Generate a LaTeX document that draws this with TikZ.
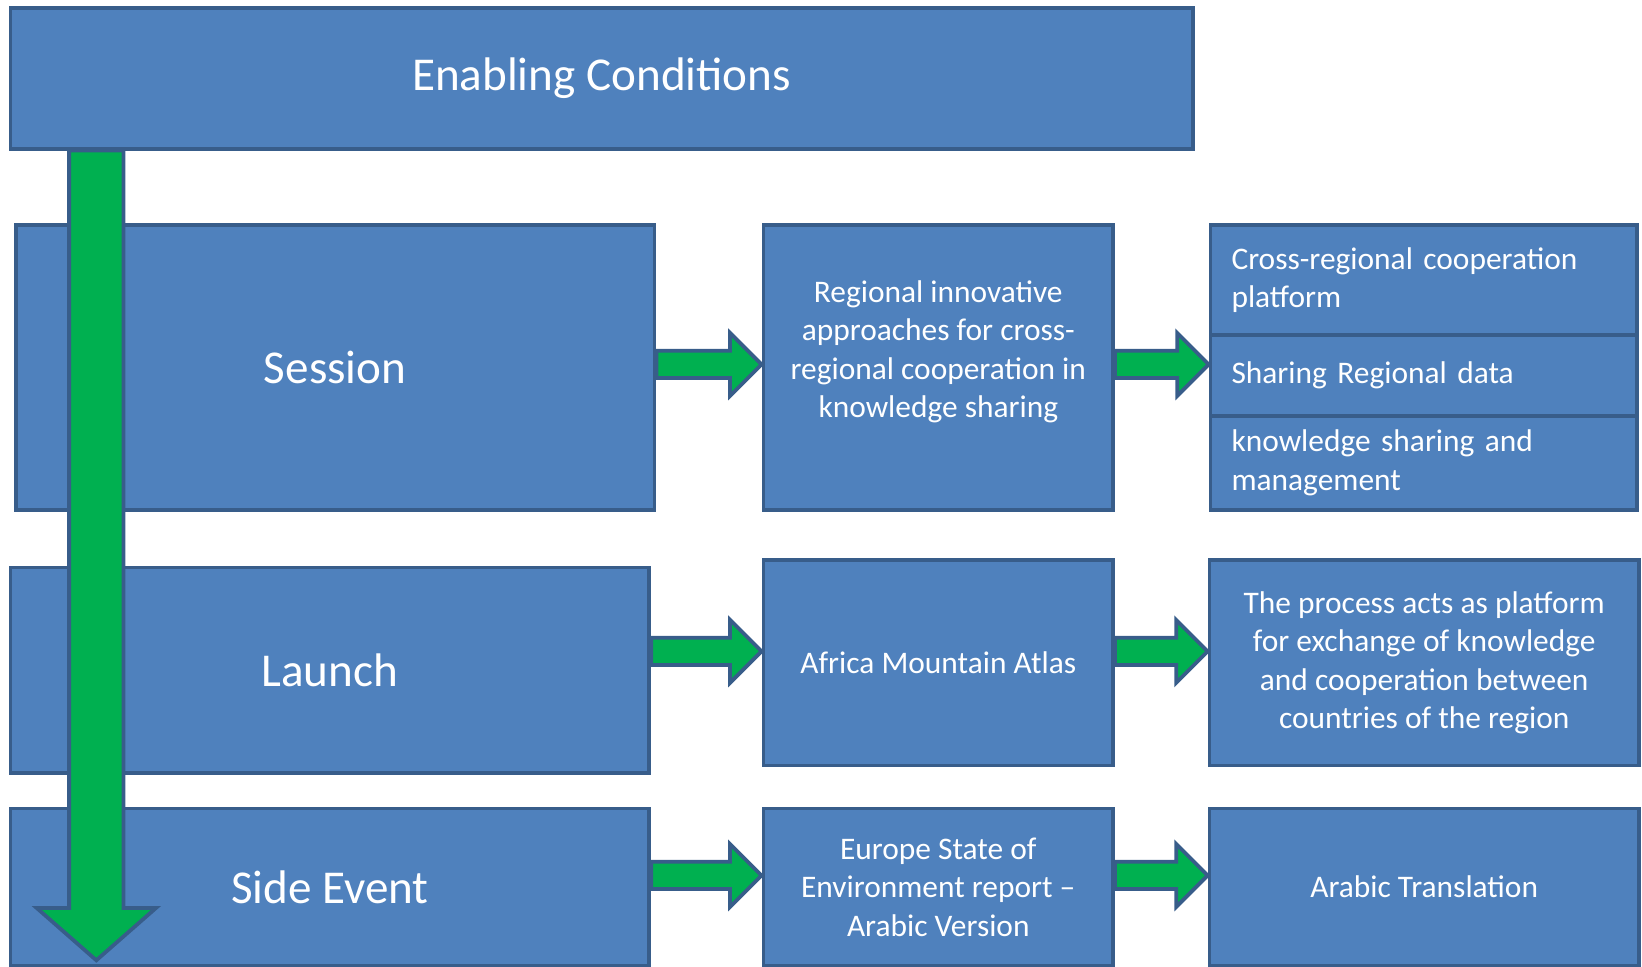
\documentclass[tikz,border=0pt]{standalone}
\usepackage{fontspec}
\setmainfont{Carlito}
\usetikzlibrary{calc}
\definecolor{boxblue}{HTML}{4F81BD}
\definecolor{boxline}{HTML}{385D8A}
\definecolor{arrgreen}{HTML}{00B050}
% green block arrow from the east side of #1 to the tip #2
\newcommand\blockarrow[2]{%
	\draw[garrow] ($(#1.east |- #2)+(0,-13)$) -- ($(#2)+(-30,-13)$) -- ($(#2)+(-30,-30)$) -- (#2) -- ($(#2)+(-30,30)$) -- ($(#2)+(-30,13)$) -- ($(#1.east |- #2)+(0,13)$) -- cycle;}
\begin{document}
\begin{tikzpicture}[x=1pt,y=-1pt,
	box/.style={draw=boxline,fill=boxblue,line width=3.6pt,text=white,inner sep=0pt},
	big/.style={font=\fontsize{45}{54}\selectfont},
	small/.style={font=\fontsize{30}{36.7}\selectfont,align=center},
	part/.style={box,font=\fontsize{30}{36.7}\selectfont,align=left,inner xsep=20pt,text width=367pt,minimum height=#1},
	garrow/.style={draw=boxline,fill=arrgreen,line width=3.6pt,line join=miter}]
	\useasboundingbox (0,0) rectangle (1568,923);
	% first row
	\node[box,big,minimum width=610,minimum height=272] (ses) at (320,351) {Session};
	\node[box,minimum width=334,minimum height=272,label={[small,text=white,yshift=15pt]center:{Regional innovative\\approaches for cross-\\regional cooperation in\\knowledge sharing}}] (reg) at (896,351) {};
	\node[part=105] (c1) at (1359.5,267.5) {Cross-regional cooperation\\platform};
	\node[part=77] (c2) at (1359.5,358.5) {Sharing Regional data};
	\node[part=90] (c3) at (1359.5,442) {knowledge sharing and\\management};
	% second row
	\node[box,big,minimum width=610,minimum height=196] (lau) at (315,640) {Launch};
	\node[box,small,minimum width=334,minimum height=196] (atl) at (896,633) {Africa Mountain Atlas};
	\node[box,small,minimum width=410,minimum height=196] (proc) at (1360,633) {The process acts as platform\\for exchange of knowledge\\and cooperation between\\countries of the region};
	% third row
	\node[box,big,minimum width=610,minimum height=150] (side) at (315,847) {Side Event};
	\node[box,small,minimum width=334,minimum height=150] (eur) at (896,847) {Europe State of\\Environment report --\\Arabic Version};
	\node[box,small,minimum width=410,minimum height=150] (arab) at (1360,847) {Arabic Translation};
	% arrows
	\coordinate (t1) at (reg.west |- 0,348);
	\coordinate (t2) at (c2.west |- 0,348);
	\coordinate (t3) at (atl.west |- 0,622);
	\coordinate (t4) at (proc.west |- 0,622);
	\coordinate (t5) at (eur.west |- 0,836);
	\coordinate (t6) at (arab.west |- 0,836);
	\blockarrow{ses}{t1}
	\blockarrow{reg}{t2}
	\blockarrow{lau}{t3}
	\blockarrow{atl}{t4}
	\blockarrow{side}{t5}
	\blockarrow{eur}{t6}
	\coordinate (dtip) at (92,917);
	\node[box,big,minimum width=1129,minimum height=134] (ec) at (574.5,75) {Enabling Conditions};
	\draw[garrow] ($(ec.south -| dtip)+(-26,0)$) -- ($(dtip)+(-26,-50)$) -- ($(dtip)+(-57,-50)$) -- (dtip) -- ($(dtip)+(57,-50)$) -- ($(dtip)+(26,-50)$) -- ($(ec.south -| dtip)+(26,0)$) -- cycle;
\end{tikzpicture}
\end{document}
